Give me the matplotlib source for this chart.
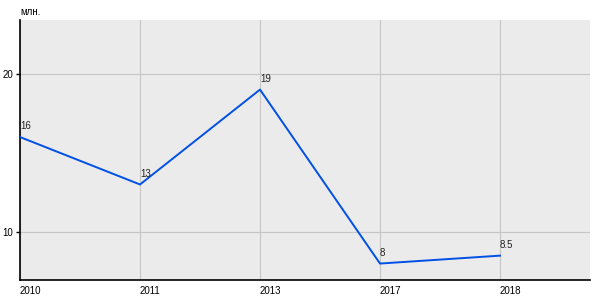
import matplotlib
matplotlib.use("Agg")
import matplotlib.pyplot as plt

# данные
YEARS = ["2010", "2011", "2013", "2017", "2018"]
VALUES = [16, 13, 19, 8, 8.5]
VALUE_LABELS = ["16", "13", "19", "8", "8.5"]
Y_TICKS = [10, 20]
UNIT = "млн."

plt.rcParams["font.family"] = ["Liberation Sans", "DejaVu Sans"]

fig = plt.figure(figsize=(6, 3), dpi=100)
ax = fig.add_axes([20 / 600, 20 / 300, 570 / 600, 260 / 300])
ax.set_facecolor("#ebebeb")

x = list(range(len(YEARS)))
ax.plot(x, VALUES, color="#0050e6", lw=1.4, zorder=3)

for xi, v, lab in zip(x, VALUES, VALUE_LABELS):
    ax.annotate(lab, (xi, v), xytext=(0, 4), textcoords="offset points",
                ha="left", va="bottom", fontsize=7, color="#222222")

ax.set_xlim(0, 4.75)
ax.set_ylim(6.96, 23.4)
ax.set_xticks(x)
ax.set_xticklabels(YEARS, fontsize=7, ha="left")
ax.set_yticks(Y_TICKS)
ax.set_yticklabels([str(t) for t in Y_TICKS], fontsize=7)

ax.grid(True, color="#c6c6c6", lw=0.8)
ax.set_axisbelow(True)
for s in ("top", "right"):
    ax.spines[s].set_visible(False)
for s in ("left", "bottom"):
    ax.spines[s].set_color("black")
    ax.spines[s].set_linewidth(1.2)

ax.tick_params(axis="x", length=0, pad=4)
ax.tick_params(axis="y", length=3, width=1, pad=2)

fig.text(20 / 600, 1 - 12 / 300, UNIT, fontsize=7, ha="left", va="center")

fig.savefig("out.png", dpi=100)
